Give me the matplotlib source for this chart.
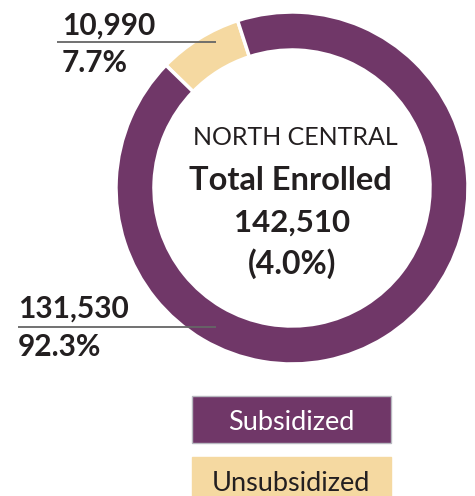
import matplotlib.pyplot as plt
from matplotlib.patches import Rectangle

# Data
categories = ["Unsubsidized", "Subsidized"]
enrolled = [10990, 131530]
percent_labels = ["7.7%", "92.3%"]
count_labels = ["10,990", "131,530"]
region = "NORTH CENTRAL"
total_label = "142,510"
total_share = "(4.0%)"

colors = {"Subsidized": "#703768", "Unsubsidized": "#F5D9A1"}
text_dark = "#231f20"

plt.rcParams['font.family'] = ['Lato', 'DejaVu Sans']

W, H = 475, 496
fig = plt.figure(figsize=(W / 100, H / 100), dpi=100)
ax = fig.add_axes([0, 0, 1, 1])

def py(y):
    # pixel row (from top) -> data y
    return H - y

# Donut
cx, cy, r_out, ring = 292, py(188), 176, 38
ax.pie(enrolled, colors=[colors[c] for c in categories], startangle=108,
       center=(cx, cy), radius=r_out, counterclock=True,
       wedgeprops=dict(width=ring, edgecolor="white", linewidth=2.5))
ax.set_xlim(0, W)
ax.set_ylim(0, H)
ax.set_aspect("equal")
ax.set_axis_off()

# Leader lines + labels
ax.plot([57, 216], [py(42), py(42)], color="#666666", lw=1.3, solid_capstyle="butt")
ax.text(62, py(35), count_labels[0], fontsize=21.5, fontweight="bold", color=text_dark, va="baseline")
ax.text(62, py(72), percent_labels[0], fontsize=21.5, fontweight="bold", color=text_dark, va="baseline")

ax.plot([18, 216], [py(327), py(327)], color="#666666", lw=1.3, solid_capstyle="butt")
ax.text(18, py(318), count_labels[1], fontsize=21.5, fontweight="bold", color=text_dark, va="baseline")
ax.text(18, py(356), percent_labels[1], fontsize=21.5, fontweight="bold", color=text_dark, va="baseline")

# Centre text
ax.text(295, py(145), region, fontsize=18, color=text_dark, ha="center", va="baseline")
ax.text(290, py(190), "Total Enrolled", fontsize=23.5, fontweight="bold", color=text_dark, ha="center", va="baseline")
ax.text(292, py(232), total_label, fontsize=22.5, fontweight="bold", color=text_dark, ha="center", va="baseline")
ax.text(292, py(274), total_share, fontsize=23, fontweight="bold", color=text_dark, ha="center", va="baseline")

# Legend boxes
legend_items = [("Subsidized", 396, "white"), ("Unsubsidized", 457, text_dark)]
for name, top, tc in legend_items:
    ax.add_patch(Rectangle((192, py(top + 47)), 199, 47, facecolor=colors[name],
                           edgecolor="#b8b8c0" if name == "Subsidized" else colors[name], lw=1))
    ax.text(291, py(top + 34), name, fontsize=19.5, color=tc, ha="center", va="baseline")

fig.savefig("out.png", dpi=100)
